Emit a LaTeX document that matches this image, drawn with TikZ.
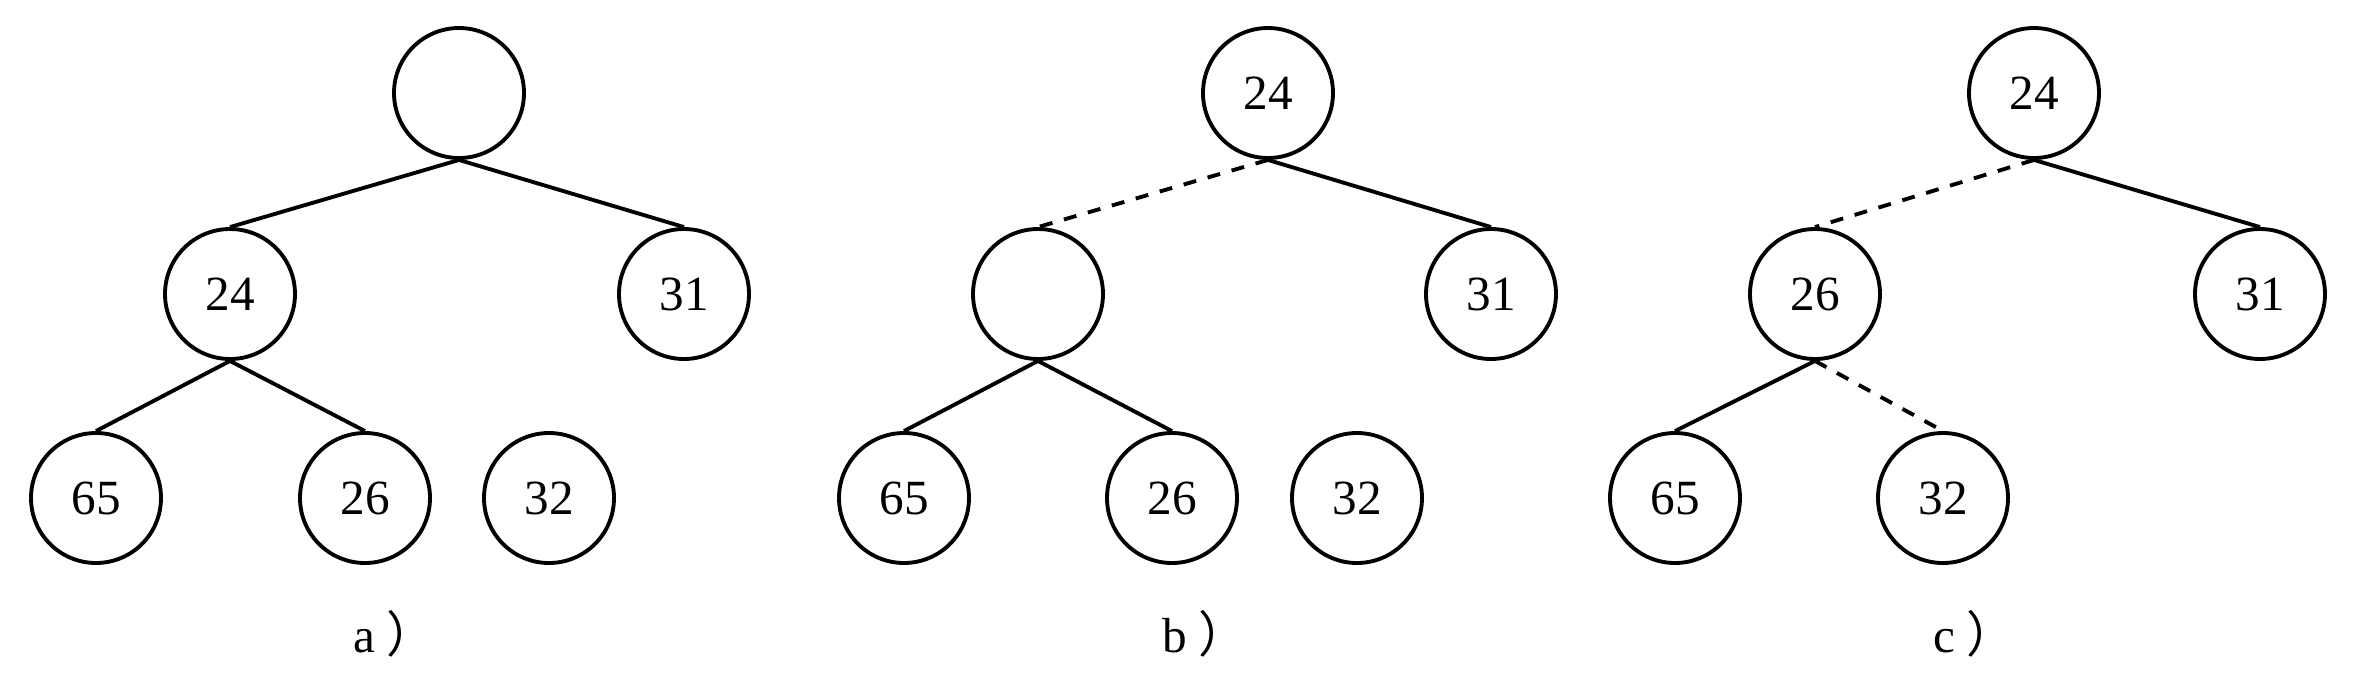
\documentclass[tikz,border=0pt]{standalone}
\usepackage{fontspec}
\setmainfont{Liberation Serif}
\newfontfamily\cjk{Noto Sans CJK SC}
\begin{document}
\begin{tikzpicture}[
  x=1cm, y=1cm,
  every node/.style={font=\fontsize{14}{16}\selectfont},
  hn/.style={circle, draw, line width=1.1pt, minimum size=1.30cm, inner sep=0pt},
  edge/.style={line width=1.1pt},
  dedge/.style={line width=1.1pt, dash pattern=on 3.7pt off 3.4pt},
  sublabel/.style={anchor=base west, inner sep=0pt}
]
\useasboundingbox (0,0) rectangle (23.66,6.80);

% ---------- a ----------
\node[hn] (aR) at (4.59,5.87) {};
\node[hn] (aL) at (2.30,3.86) {24};
\node[hn] (aRr) at (6.84,3.86) {31};
\node[hn] (aLL) at (0.96,1.82) {65};
\node[hn] (aLR) at (3.65,1.82) {26};
\node[hn] (aX) at (5.49,1.82) {32};
\draw[edge] (aR.south) -- (aL.north);
\draw[edge] (aR.south) -- (aRr.north);
\draw[edge] (aL.south) -- (aLL.north);
\draw[edge] (aL.south) -- (aLR.north);
\node[sublabel] (la) at (3.53,0.28) {a\hspace{0.22em}{\cjk ）}};

% ---------- b ----------
\node[hn] (bR) at (12.68,5.87) {24};
\node[hn] (bL) at (10.38,3.86) {};
\node[hn] (bRr) at (14.91,3.86) {31};
\node[hn] (bLL) at (9.04,1.82) {65};
\node[hn] (bLR) at (11.72,1.82) {26};
\node[hn] (bX) at (13.57,1.82) {32};
\draw[dedge] (bR.south) -- (bL.north);
\draw[edge] (bR.south) -- (bRr.north);
\draw[edge] (bL.south) -- (bLL.north);
\draw[edge] (bL.south) -- (bLR.north);
\node[sublabel] (lb) at (11.62,0.28) {b\hspace{0.22em}{\cjk ）}};

% ---------- c ----------
\node[hn] (cR) at (20.34,5.87) {24};
\node[hn] (cL) at (18.15,3.86) {26};
\node[hn] (cRr) at (22.60,3.86) {31};
\node[hn] (cLL) at (16.75,1.82) {65};
\node[hn] (cLR) at (19.43,1.82) {32};
\draw[dedge] (cR.south) -- (cL.north);
\draw[edge] (cR.south) -- (cRr.north);
\draw[edge] (cL.south) -- (cLL.north);
\draw[dedge] (cL.south) -- (cLR.north);
\node[sublabel] (lc) at (19.33,0.28) {c\hspace{0.22em}{\cjk ）}};
\end{tikzpicture}
\end{document}
